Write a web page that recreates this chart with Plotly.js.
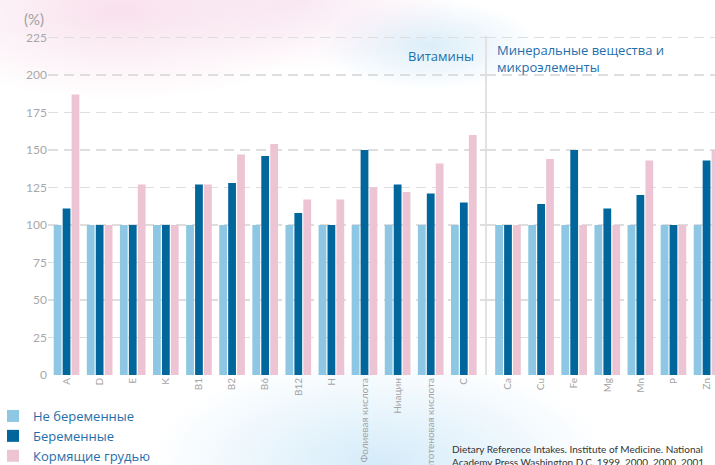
<!DOCTYPE html>
<html>
<head>
<meta charset="utf-8">
<script src="https://cdn.plot.ly/plotly-3.0.1.min.js"></script>
<style>
html,body{margin:0;padding:0;}
body{
  width:715px;height:465px;overflow:hidden;
  background:
    radial-gradient(ellipse 220px 90px at 120px 10px, rgba(246,214,230,0.75), rgba(246,214,230,0) 100%),
    radial-gradient(ellipse 160px 70px at 300px 0px, rgba(246,220,236,0.6), rgba(246,220,236,0) 100%),
    radial-gradient(ellipse 110px 45px at 430px 45px, rgba(205,230,246,0.7), rgba(205,230,246,0) 100%),
    radial-gradient(ellipse 230px 110px at 380px 465px, rgba(205,232,248,0.85), rgba(205,232,248,0) 100%),
    #ffffff;
}
#chart{width:715px;height:465px;}
</style>
</head>
<body>
<div id="chart"></div>
<script>
var vitaminLabels = ["A","D","E","K","B1","B2","B6","B12","H","Фолиевая кислота","Ниацин","Пантотеновая кислота","C"];
var mineralLabels = ["Ca","Cu","Fe","Mg","Mn","P","Zn"];
var seriesNames = ["Не беременные","Беременные","Кормящие грудью"];
var vitNotPregnant = [100,100,100,100,100,100,100,100,100,100,100,100,100];
var vitPregnant    = [111,100,100,100,127,128,146,108,100,150,127,121,115];
var vitLactating   = [187,100,127,100,127,147,154,117,117,125,122,141,160];
var minNotPregnant = [100,100,100,100,100,100,100];
var minPregnant    = [100,114,150,111,120,100,143];
var minLactating   = [100,144,100,100,143,100,150];
var yTicks = [0,25,50,75,100,125,150,175,200,225];

var colors = ["#8dc7e3","#00669c","#edc4d3"];
var vitSeries = [vitNotPregnant, vitPregnant, vitLactating];
var minSeries = [minNotPregnant, minPregnant, minLactating];

var traces = [];
for (var i = 0; i < 3; i++) {
  traces.push({type:"bar", name:seriesNames[i], x:vitaminLabels, y:vitSeries[i],
    xaxis:"x", yaxis:"y", marker:{color:colors[i]}, legendgroup:"g"+i, showlegend:true,
    hoverinfo:"y"});
}
for (var j = 0; j < 3; j++) {
  traces.push({type:"bar", name:seriesNames[j], x:mineralLabels, y:minSeries[j],
    xaxis:"x2", yaxis:"y", marker:{color:colors[j]}, legendgroup:"g"+j, showlegend:false,
    hoverinfo:"y"});
}

var W = 715, L = 48, plotW = W - L, T = 36, plotH = 339;
var sep = (486 - L) / plotW;
var blue = "#1f6fab";
var tickFont = {family:"Lato, 'DejaVu Sans', sans-serif", size:10, color:"#a3a3a3"};

var layout = {
  width:715, height:465,
  margin:{l:L, r:0, t:T, b:90, autoexpand:false},
  paper_bgcolor:"rgba(0,0,0,0)", plot_bgcolor:"rgba(0,0,0,0)",
  barmode:"group", bargap:0.19, bargroupgap:0.13,
  showlegend:true,
  legend:{x:(-7 - L)/plotW, xanchor:"left", y:(375-401)/plotH, yanchor:"top",
    bgcolor:"rgba(0,0,0,0)", font:{family:"'Open Sans', sans-serif", size:13, color:blue},
    tracegroupgap:0, itemclick:false},
  xaxis:{domain:[0, sep], type:"category", range:[-0.56, 12.67], anchor:"y",
    tickangle:-90, tickfont:tickFont, showgrid:false, showline:false, ticks:"", zeroline:false,
    automargin:false},
  xaxis2:{domain:[sep, 1], type:"category", range:[-0.665, 6.255], anchor:"y",
    tickangle:-90, tickfont:tickFont, showgrid:false, showline:false, ticks:"", zeroline:false,
    automargin:false},
  yaxis:{range:[0,226], tickvals:yTicks, showgrid:true, gridcolor:"#dedede", gridwidth:1.5,
    griddash:"10px,6px", zeroline:false, showline:false, ticks:"",
    tickfont:{family:"Lato, 'DejaVu Sans', sans-serif", size:12, color:"#a8a8a8"}, automargin:false},
  shapes:[{type:"line", xref:"paper", yref:"paper", x0:sep, x1:sep, y0:0, y1:1.0,
    line:{color:"#e2e2e2", width:2}, layer:"below"}],
  annotations:[
    {text:"(%)", xref:"paper", yref:"paper", x:(22 - L)/plotW, y:(375-19)/plotH, xanchor:"left", yanchor:"middle",
      showarrow:false, font:{family:"Lato, sans-serif", size:15, color:"#a0a0a0"}},
    {text:"Витамины", xref:"paper", yref:"paper", x:(476 - L)/plotW, y:(375-56)/plotH, xanchor:"right", yanchor:"middle",
      showarrow:false, font:{family:"'Open Sans', sans-serif", size:13, color:blue}},
    {text:"Минеральные вещества и<br>микроэлементы", xref:"paper", yref:"paper", x:(495 - L)/plotW, y:(375-39)/plotH,
      xanchor:"left", yanchor:"top", align:"left", showarrow:false,
      font:{family:"'Open Sans', sans-serif", size:13, color:blue}},
    {text:"Dietary Reference Intakes. Institute of Medicine. National<br>Academy Press Washington D.C. 1999, 2000, 2000, 2001",
      xref:"paper", yref:"paper", x:(450 - L)/plotW, y:(375-441)/plotH, xanchor:"left", yanchor:"top", align:"left",
      showarrow:false, font:{family:"Lato, sans-serif", size:10, color:"#333333"}}
  ]
};

Plotly.newPlot("chart", traces, layout, {displayModeBar:false, staticPlot:true});
</script>
</body>
</html>
